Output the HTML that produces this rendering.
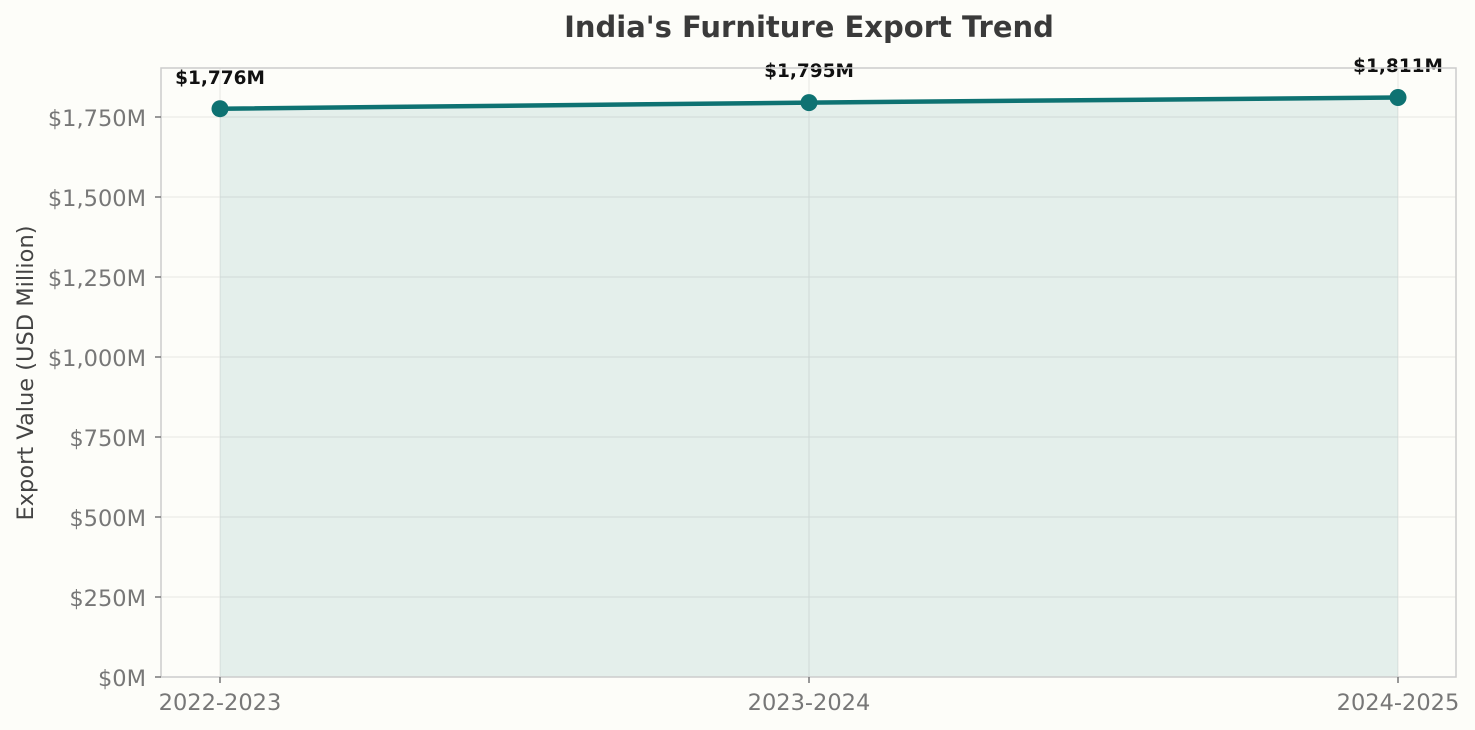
<!DOCTYPE html>
<html><head><meta charset="utf-8"><style>
html,body{margin:0;padding:0;background:#fdfdf9;}
svg{display:block;font-family:"DejaVu Sans","Liberation Sans",sans-serif;}
</style></head><body>
<svg width="1475" height="730" viewBox="0 0 1475 730" xmlns="http://www.w3.org/2000/svg">
<rect width="1475" height="730" fill="#fdfdf9"/>
<text x="809" y="37" text-anchor="middle" font-size="29" font-weight="bold" fill="#3a3a3a">India's Furniture Export Trend</text>
<g stroke="#e6e6e2" stroke-width="1">
<line x1="161" x2="1456" y1="597" y2="597"/><line x1="161" x2="1456" y1="517" y2="517"/>
<line x1="161" x2="1456" y1="437" y2="437"/><line x1="161" x2="1456" y1="357" y2="357"/>
<line x1="161" x2="1456" y1="277" y2="277"/><line x1="161" x2="1456" y1="197" y2="197"/>
<line x1="161" x2="1456" y1="117" y2="117"/>
<line x1="220" x2="220" y1="68" y2="677"/><line x1="809" x2="809" y1="68" y2="677"/><line x1="1398" x2="1398" y1="68" y2="677"/>
</g>
<polygon points="220,108.7 809,102.6 1398,97.5 1398,677 220,677" fill="#0e7272" fill-opacity="0.1"/>
<polyline points="220,108.7 809,102.6 1398,97.5" fill="none" stroke="#0e7272" stroke-width="4.5"/>
<circle cx="220" cy="108.7" r="8.5" fill="#0e7272"/>
<circle cx="809" cy="102.6" r="8.5" fill="#0e7272"/>
<circle cx="1398" cy="97.5" r="8.5" fill="#0e7272"/>
<g font-size="18.5" font-weight="bold" fill="#111" text-anchor="middle">
<text x="220" y="84">$1,776M</text><text x="809" y="77">$1,795M</text><text x="1398" y="72">$1,811M</text>
</g>
<rect x="161" y="68" width="1295" height="609" fill="none" stroke="#cccccc" stroke-width="1.5"/>
<g stroke="#777" stroke-width="1.5">
<line x1="155" x2="161" y1="677" y2="677"/><line x1="155" x2="161" y1="597" y2="597"/><line x1="155" x2="161" y1="517" y2="517"/><line x1="155" x2="161" y1="437" y2="437"/><line x1="155" x2="161" y1="357" y2="357"/><line x1="155" x2="161" y1="277" y2="277"/><line x1="155" x2="161" y1="197" y2="197"/><line x1="155" x2="161" y1="117" y2="117"/>
<line x1="220" x2="220" y1="677" y2="683"/><line x1="809" x2="809" y1="677" y2="683"/><line x1="1398" x2="1398" y1="677" y2="683"/>
</g>
<g font-size="22.5" fill="#777" text-anchor="end">
<text x="146" y="686">$0M</text><text x="146" y="606">$250M</text><text x="146" y="526">$500M</text><text x="146" y="446">$750M</text><text x="146" y="366">$1,000M</text><text x="146" y="286">$1,250M</text><text x="146" y="206">$1,500M</text><text x="146" y="126">$1,750M</text>
</g>
<g font-size="22.5" fill="#777" text-anchor="middle">
<text x="220" y="710">2022-2023</text><text x="809" y="710">2023-2024</text><text x="1398" y="710">2024-2025</text>
</g>
<text transform="translate(33,373) rotate(-90)" text-anchor="middle" font-size="22.5" fill="#444">Export Value (USD Million)</text>
</svg>
</body></html>
